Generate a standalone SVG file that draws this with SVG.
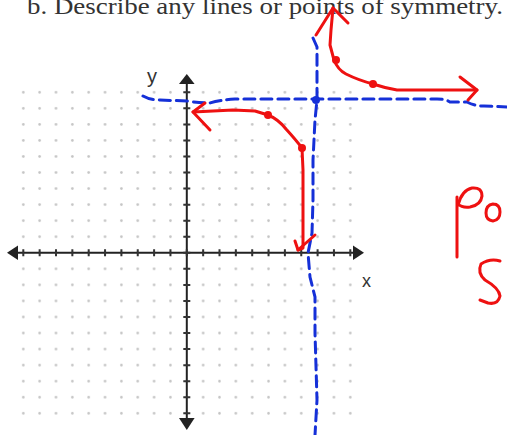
<svg xmlns="http://www.w3.org/2000/svg" width="507" height="435" viewBox="0 0 507 435">
<style>
.ax{stroke:#222;stroke-width:2;fill:none}
.tk{stroke:#333;stroke-width:7;fill:none}
.ah{fill:#222}
.blue{stroke:#1530d8;stroke-width:3;fill:none;stroke-linecap:round;stroke-dasharray:11 6}
.red{stroke:#ee1111;stroke-width:3;fill:none;stroke-linecap:round;stroke-linejoin:round}
.rdot{fill:#ee1111}
.lbl{font-family:"Liberation Sans",Arial,sans-serif;fill:#333}
</style>
<defs>
<pattern id="dots" patternUnits="userSpaceOnUse" x="15.125" y="84.275" width="16.35" height="16.05">
<circle cx="8.175" cy="8.025" r="1.3" fill="#c4c4c4"/>
</pattern>
</defs>
<rect width="507" height="435" fill="#ffffff"/>
<text x="27" y="14" font-family="'Liberation Serif','Times New Roman',serif" font-size="24" fill="#333" textLength="476" lengthAdjust="spacingAndGlyphs">b. Describe any lines or points of symmetry.</text>
<g id="grid">
<rect x="15.125" y="84.275" width="343.35" height="337.05" fill="url(#dots)"/>
</g>
<g id="axes">
<line class="ax" x1="14" y1="252.8" x2="356" y2="252.8"/>
<line class="ax" x1="186.8" y1="80" x2="186.8" y2="420"/>
<line class="tk" x1="22.3" y1="252.8" x2="352" y2="252.8" stroke-dasharray="2 14.35"/>
<line class="tk" x1="186.8" y1="91.3" x2="186.8" y2="416" stroke-dasharray="2 14.05"/>
<polygon class="ah" points="7,252.8 18,245.5 18,260"/>
<polygon class="ah" points="364,252.8 353,245.5 353,260"/>
<polygon class="ah" points="186.8,74 179,84 194.6,84"/>
<polygon class="ah" points="186.8,430 179,418 194.6,418"/>
<text class="lbl" x="147" y="83" font-size="20">y</text>
<text class="lbl" x="362" y="287" font-size="18">x</text>
</g>
<g id="connectors">
<path class="blue" d="M143,96 Q150,100 160,100 L187,101 Q200,103 210,103 Q220,100 235,99 L437,99 Q446,99 450,102 L467,102 Q474,106 484,106 L507,107"/>
<path class="blue" d="M313,38 L317,47 L317,100 L315,120 L313,160 L313,200 L312,233 L308,253 L310,277 L315,297 L315,333 L317,400 L315,435"/>
<circle cx="316" cy="100" r="4" fill="#1530d8"/>
</g>
<g id="curve-upper">
<path class="red" d="M333,8 L331,30 L330,45 L334,60 Q338,70 346,74 Q358,80 373,84 Q385,88 397,90 L477,90"/>
<path class="red" d="M316,35 L333,8 L348,23"/>
<path class="red" d="M460,77 L477,90 L468,100"/>
<circle class="rdot" cx="336" cy="60" r="4"/>
<circle class="rdot" cx="373" cy="84" r="4"/>
</g>
<g id="curve-lower">
<path class="red" d="M193,112 L233,110 L255,111 L268,115 Q278,119 286,129 Q296,140 302,148 L303,170 L303,248 L298,250"/>
<path class="red" d="M205,103 L193,112 L210,130"/>
<path class="red" d="M295,241 L298,250 L315,235"/>
<circle class="rdot" cx="268" cy="115" r="4"/>
<circle class="rdot" cx="302" cy="148" r="4"/>
</g>
<g id="annotation">
<path class="red" d="M457,197 L457,257"/>
<path class="red" d="M458,205 Q462,190 472,188 Q482,187 482,196 Q481,205 470,207 Q462,208 458,204"/>
<path class="red" d="M493,204 Q486,205 486,213 Q486,220 493,221 Q500,220 500,212 Q500,204 493,204"/>
<path class="red" d="M500,261 Q490,258 481,264 Q477,273 485,280 Q499,288 500,296 Q498,305 488,303 L480,300"/>
</g>
</svg>
